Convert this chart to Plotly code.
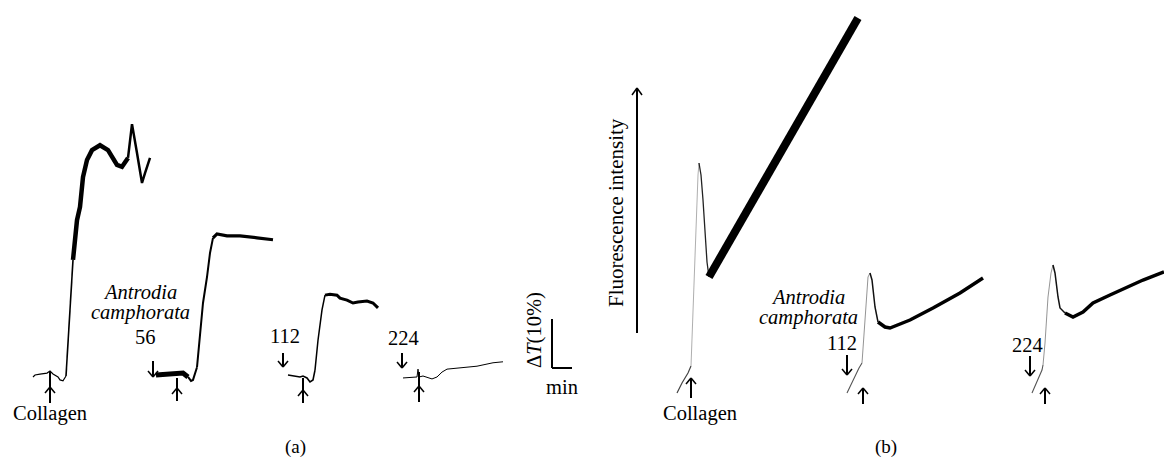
import plotly.graph_objects as go

# ---------------- data ----------------
# Panel (a): light-transmission change (%) vs time (min)
a_ctrl_t = [0, 0.1, 0.35, 0.7, 0.85, 1.0, 1.25, 1.35, 1.5, 1.65, 1.75, 1.85, 2.0, 2.2, 2.35,
            2.5, 2.7, 2.95, 3.35, 3.75, 4.2, 4.45, 4.75, 4.95, 5.2, 5.45, 5.6, 5.85]
a_ctrl_v = [-0.2, 0.2, 0.4, 0.6, 1.0, 0.4, -0.2, -0.8, -1.0, 0.0, 6.7, 13.5, 23.7, 31.8, 34.5,
            40.6, 44.1, 46.1, 47.1, 46.1, 43.1, 42.7, 44.5, 51.4, 45.5, 39.4, 41.4, 44.5]

a56_t = [0, 1.35, 1.6, 1.75, 1.85, 2.05, 2.2, 2.35, 2.55, 2.7, 2.85, 3.05, 3.55, 4.2, 5.05, 5.85]
a56_v = [0.2, 0.6, -0.2, -1.0, -0.8, 1.8, 8.0, 14.9, 20.2, 25.1, 28.2, 29.0, 28.6, 28.6, 28.2, 27.8]

a112_t = [0, 0.25, 0.6, 0.75, 0.95, 1.1, 1.25, 1.35, 1.5, 1.7, 1.85, 2.1, 2.45, 2.6, 2.95,
          3.25, 3.5, 3.95, 4.25, 4.5]
a112_v = [0.2, 0, -0.2, 0, -0.4, -1.2, -0.8, 1.2, 7.3, 13.5, 16.5, 16.7, 16.5, 15.9, 15.5,
          14.9, 15.1, 15.3, 14.9, 13.9]

a224_t = [0, 0.5, 0.7, 0.75, 0.8, 1.0, 1.25, 1.45, 1.7, 1.95, 2.2, 2.85, 3.7, 4.5, 5.0]
a224_v = [-0.4, -0.2, -0.2, 1.4, -0.2, 0, -0.4, -0.6, -0.2, 0.8, 1.4, 1.6, 2.0, 2.7, 2.9]

# Panel (b): fluorescence intensity (a.u.) vs time (s)
b_ctrl_t = [0, 10, 22, 28, 30, 34, 38, 42, 44, 48, 52, 56, 60, 64, 100, 166, 232, 300, 362]
b_ctrl_v = [-26, -16, -6, 1, 27, 87, 147, 192, 204, 192, 167, 132, 105, 90, 121, 179, 236, 295, 349]

b112_t = [0, 12, 24, 30, 32, 38, 42, 46, 50, 56, 62, 76, 86, 126, 172, 226, 272]
b112_v = [-26, -13, -1, 4, 20, 70, 90, 94, 87, 60, 45, 40, 39, 47, 59, 74, 89]

b224_t = [0, 10, 20, 22, 26, 32, 38, 42, 46, 52, 56, 66, 82, 102, 122, 156, 190, 222, 264]
b224_v = [-26, -15, -3, 2, 24, 70, 94, 102, 94, 70, 59, 54, 50, 55, 64, 72, 80, 87, 95]

# ---------------- layout / scale constants ----------------
W, H = 1164, 467
A_PX_PER_MIN, A_PX_PER_PCT, A_BASE_PX = 20, 4.9, 376
B_PX_PER_S, B_PX_PER_AU, B_BASE_PX = 0.5, 1.0, 367
PAD = 4
FONT = "Liberation Serif"

# (t, v, left pixel, panel, segments: (i0, i1, width, color))
traces = [
    (a_ctrl_t, a_ctrl_v, 33, "a", [(0, 9, 1.2, "black"), (9, 12, 1.6, "black"),
                                   (12, 22, 4.5, "black"), (22, 27, 2.5, "black")]),
    (a56_t, a56_v, 156, "a", [(0, 2, 5, "black"), (2, 5, 2, "black"), (5, 10, 2, "black"),
                              (10, 15, 3.2, "black")]),
    (a112_t, a112_v, 288, "a", [(0, 7, 1.6, "black"), (7, 10, 1.5, "black"),
                                (10, 19, 3, "black")]),
    (a224_t, a224_v, 403, "a", [(0, 14, 1, "black")]),
    (b_ctrl_t, b_ctrl_v, 677, "b", [(0, 3, 1.2, "#444"), (3, 8, 0.8, "#999"),
                                    (8, 13, 1.3, "#222"), (13, 18, 8, "black")]),
    (b112_t, b112_v, 847, "b", [(0, 3, 1.1, "#555"), (3, 7, 0.9, "#888"),
                                (7, 10, 1.5, "#111"), (10, 16, 3.5, "black")]),
    (b224_t, b224_v, 1032, "b", [(0, 3, 1.1, "#555"), (3, 7, 0.9, "#888"),
                                 (7, 11, 1.5, "#111"), (11, 18, 3.5, "black")]),
]

fig = go.Figure()
layout = dict(width=W, height=H, margin=dict(l=0, r=0, t=0, b=0), showlegend=False,
              paper_bgcolor="white", plot_bgcolor="rgba(0,0,0,0)")

# shared y axes
layout["yaxis"] = dict(domain=[0, 1], anchor="x",
                       range=[(A_BASE_PX - H) / A_PX_PER_PCT, A_BASE_PX / A_PX_PER_PCT],
                       visible=False)
layout["yaxis2"] = dict(domain=[0, 1], anchor="x5",
                        range=[(B_BASE_PX - H) / B_PX_PER_AU, B_BASE_PX / B_PX_PER_AU],
                        visible=False)

for k, (t, v, x0, panel, segs) in enumerate(traces):
    ax_id = k + 1
    scale = A_PX_PER_MIN if panel == "a" else B_PX_PER_S
    span = t[-1]
    padu = PAD / scale
    left = (x0 - PAD) / W
    right = min(1.0, (x0 + span * scale + PAD) / W)
    rng_hi = (right * W - x0) / scale
    name = "xaxis" if ax_id == 1 else f"xaxis{ax_id}"
    layout[name] = dict(domain=[left, right], range=[-padu, rng_hi],
                        anchor="y" if panel == "a" else "y2", visible=False)
    xref = "x" if ax_id == 1 else f"x{ax_id}"
    yref = "y" if panel == "a" else "y2"
    for (i0, i1, w, c) in segs:
        fig.add_trace(go.Scatter(x=t[i0:i1 + 1], y=v[i0:i1 + 1], mode="lines",
                                 line=dict(color=c, width=w), xaxis=xref, yaxis=yref,
                                 hoverinfo="skip"))

fig.update_layout(**layout)


def px(x):
    return x / W


def py(y):
    return 1 - y / H


shapes = []


def seg(x0, y0, x1, y1, w=1.8):
    shapes.append(dict(type="line", xref="paper", yref="paper", x0=px(x0), y0=py(y0),
                       x1=px(x1), y1=py(y1), line=dict(color="black", width=w)))


def up_arrow(x, tail, head, top, hw=5, hh=6):
    seg(x, tail, x, top, 2)
    seg(x - hw, head + hh, x, head, 1.5)
    seg(x + hw, head + hh, x, head, 1.5)


def down_arrow(x, tail, tip, hw=5, hh=6):
    seg(x, tail, x, tip, 2)
    seg(x - hw, tip - hh, x, tip, 1.5)
    seg(x + hw, tip - hh, x, tip, 1.5)


# injection arrows
for (x, tail, head, top) in [(50, 403, 387, 372), (177, 401, 388, 378), (303, 403, 390, 378),
                             (419, 402, 386, 372), (691, 398, 378, 378), (863, 404, 388, 388),
                             (1045, 404, 388, 388)]:
    up_arrow(x, tail, head, top)
for (x, tail, tip) in [(153, 361, 377), (283, 353, 367), (402, 353, 368),
                       (847, 355, 375), (1030, 356, 376)]:
    down_arrow(x, tail, tip)

# fluorescence intensity arrow
up_arrow(637, 333, 88, 88, hw=5, hh=7)

# scale bar: 1 min x 10 %
sb_x, sb_y = 552, 368
seg(sb_x, sb_y, sb_x, sb_y - 10 * A_PX_PER_PCT, 2)
seg(sb_x, sb_y, sb_x + 1 * A_PX_PER_MIN, sb_y, 2)

fig.update_layout(shapes=shapes)

ann = []


def text(s, x, y, size=20.5, angle=0):
    ann.append(dict(text=s, x=px(x), y=py(y), xref="paper", yref="paper", showarrow=False,
                    xanchor="center", yanchor="middle", textangle=angle,
                    font=dict(family=FONT, size=size, color="black")))


text("Collagen", 50, 413)
text("<i>Antrodia</i>", 140, 292)
text("<i>camphorata</i>", 140, 312)
text("56", 145, 337)
text("112", 285, 336)
text("224", 403, 338)
text("Δ<i>T</i>(10%)", 534, 330, angle=-90)
text("min", 562, 387)
text("Fluorescence intensity", 616, 213, size=21, angle=-90)
text("Collagen", 700, 413)
text("<i>Antrodia</i>", 808, 297)
text("<i>camphorata</i>", 808, 317)
text("112", 842, 343)
text("224", 1027, 345)
text("(a)", 295, 447, size=19)
text("(b)", 886, 447, size=19)

fig.update_layout(annotations=ann)
fig.write_html("out.html", config={"displayModeBar": False},
               post_script="document.body.style.margin='0';document.body.style.padding='0';")
